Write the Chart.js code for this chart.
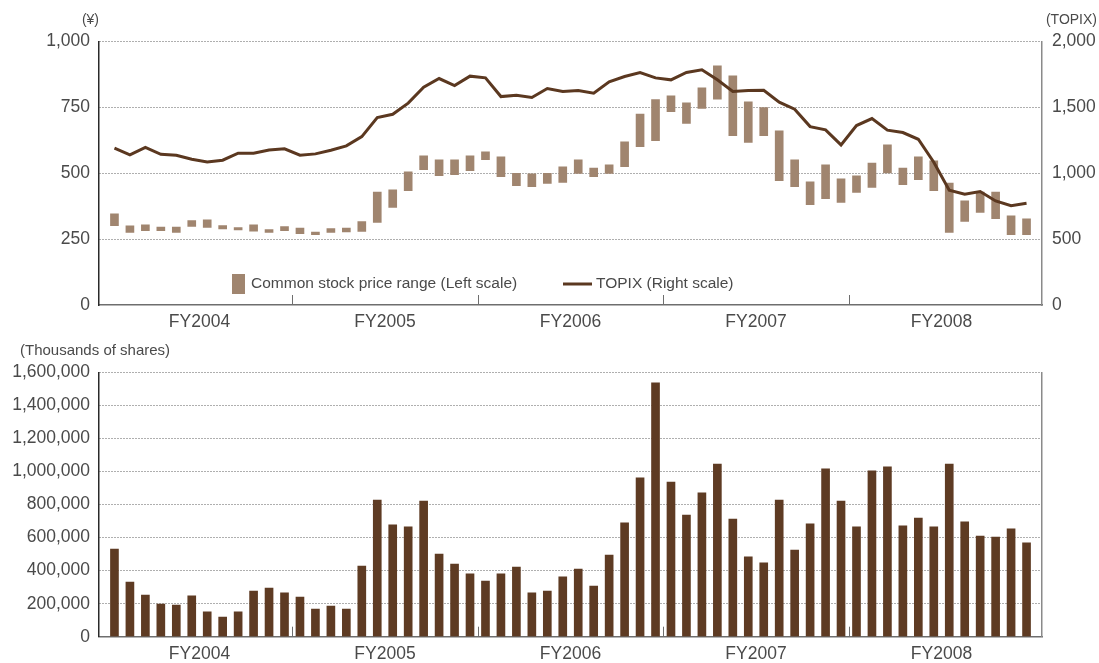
<!DOCTYPE html>
<html>
<head>
<meta charset="utf-8">
<title>Stock price range, TOPIX and trading volume</title>
<script src="https://cdn.jsdelivr.net/npm/chart.js@4.4.1/dist/chart.umd.min.js"></script>
<style>
  html, body { margin: 0; padding: 0; background: #fff; }
  #wrap { position: relative; width: 1099px; height: 663px; overflow: hidden; }
  canvas { position: absolute; left: 0; }
  #priceChart { top: 0; }
  #volumeChart { top: 330px; }
</style>
</head>
<body>
<div id="wrap">
  <canvas id="priceChart" width="1099" height="330"></canvas>
  <canvas id="volumeChart" width="1099" height="333"></canvas>
</div>
<script>
// Fiscal years on the horizontal axis (April - March, 12 months each)
const fyLabels = ['FY2004', 'FY2005', 'FY2006', 'FY2007', 'FY2008'];

// Monthly common stock price range (yen), April 2004 - March 2009
const priceHigh = [346, 300, 304, 296, 296, 320, 323, 301, 294, 304, 286, 298,
                   292, 277, 290, 292, 317, 429, 437, 505, 566, 551, 551, 566,
                   581, 562, 500, 498, 500, 524, 551, 520, 532, 619, 725, 780,
                   794, 767, 824, 908, 870, 771, 749, 661, 551, 467, 532, 479,
                   490, 539, 608, 520, 562, 547, 463, 395, 429, 429, 338, 327];
const priceLow  = [301, 275, 282, 282, 275, 298, 294, 289, 285, 280, 275, 282,
                   271, 267, 275, 277, 279, 313, 370, 434, 514, 491, 495, 510,
                   552, 487, 453, 449, 461, 465, 499, 487, 499, 525, 601, 624,
                   734, 689, 746, 781, 643, 617, 643, 472, 449, 381, 404, 389,
                   427, 446, 501, 457, 476, 434, 275, 317, 351, 328, 267, 267];

// Monthly TOPIX (right scale)
const topix = [1190, 1139, 1197, 1144, 1137, 1106, 1086, 1099, 1152, 1152, 1177, 1185,
               1137, 1147, 1175, 1208, 1278, 1423, 1448, 1532, 1653, 1719, 1666, 1737,
               1724, 1582, 1592, 1575, 1643, 1620, 1628, 1608, 1694, 1734, 1765, 1724,
               1709, 1765, 1785, 1709, 1620, 1628, 1630, 1539, 1486, 1354, 1329, 1215,
               1362, 1415, 1327, 1309, 1258, 1084, 871, 841, 861, 790, 754, 772];

// Monthly trading volume (thousands of shares)
const volume = [531000, 331000, 252000, 198000, 192000, 247000, 150000, 119000, 150000, 277000, 295000, 265000,
                240000, 168000, 186000, 168000, 428000, 828000, 677000, 665000, 822000, 501000, 440000, 380000,
                337000, 380000, 422000, 265000, 277000, 362000, 410000, 307000, 495000, 689000, 962000, 1537000,
                937000, 737000, 871000, 1046000, 713000, 483000, 447000, 828000, 525000, 683000, 1016000, 822000,
                665000, 1004000, 1028000, 671000, 719000, 665000, 1046000, 695000, 610000, 604000, 653000, 568000];

const MONTHS_PER_FY = 12;
const monthCount = fyLabels.length * MONTHS_PER_FY;

const COLORS = {
  range: '#a0856f',
  topix: '#5b3820',
  volume: '#5e3b23',
  text: '#4a4a4a',
  grid: '#5e5e5e',
  leftAxis: '#2a2a2a',
  axis: '#8a8a8a'
};
const FONT_FAMILY = '"Liberation Sans", Arial, Helvetica, sans-serif';
const tickFont = { family: FONT_FAMILY, size: 17.5 };

Chart.defaults.font.family = FONT_FAMILY;
Chart.defaults.color = COLORS.text;

// Month n (1-based) sits at x = n on a 0..monthCount+1 linear axis
const atMonth = (values) => values.map((v, i) => ({ x: i + 1, y: v }));

function monthAxis(axisHeight) {
  return {
    type: 'linear',
    min: 0,
    max: monthCount + 1,
    offset: false,
    afterBuildTicks: (scale) => {
      scale.ticks = fyLabels.map((_, i) => ({ value: i * MONTHS_PER_FY + (MONTHS_PER_FY + 1) / 2 }));
    },
    afterFit: (scale) => { scale.height = axisHeight; },
    ticks: {
      autoSkip: false,
      maxRotation: 0,
      padding: 7,
      font: tickFont,
      color: COLORS.text,
      callback: (value, index) => fyLabels[index]
    },
    grid: { display: true, offset: false, drawOnChartArea: false, drawTicks: false, color: 'rgba(0,0,0,0)' },
    border: { display: true, color: '#6e6e6e', width: 1.5 }
  };
}

const dottedGrid = {
  drawTicks: false,
  lineWidth: 1,
  color: (ctx) => (ctx.tick && ctx.tick.value === 0 ? 'rgba(0,0,0,0)' : COLORS.grid)
};

// Short marks rising from the axis at each fiscal-year boundary, plus unit captions
function decorations(captions, legend) {
  return {
    id: 'decorations',
    afterDatasetsDraw(chart) {
      const { ctx, chartArea } = chart;
      const xs = chart.scales.x;
      ctx.save();
      ctx.strokeStyle = '#6e6e6e';
      ctx.lineWidth = 1;
      for (let i = 1; i < fyLabels.length; i++) {
        const px = Math.round(xs.getPixelForValue(i * MONTHS_PER_FY + 0.5)) + 0.5;
        ctx.beginPath();
        ctx.moveTo(px, chartArea.bottom);
        ctx.lineTo(px, chartArea.bottom - 10);
        ctx.stroke();
      }
      ctx.fillStyle = COLORS.text;
      ctx.textBaseline = 'middle';
      captions.forEach((c) => {
        ctx.font = c.size + 'px ' + FONT_FAMILY;
        ctx.textAlign = c.align;
        ctx.fillText(c.text, c.x, c.y);
      });
      if (legend) legend(ctx, chart);
      ctx.restore();
    }
  };
}

function drawPriceLegend(ctx, chart) {
  const [rangeSet, lineSet] = [chart.data.datasets[0], chart.data.datasets[1]];
  const y = 284;
  ctx.font = '15.5px ' + FONT_FAMILY;
  ctx.textAlign = 'left';
  ctx.fillStyle = rangeSet.backgroundColor;
  ctx.fillRect(232, y - 10, 13, 20);
  ctx.fillStyle = COLORS.text;
  ctx.fillText(rangeSet.label, 251, y);
  ctx.strokeStyle = lineSet.borderColor;
  ctx.lineWidth = 3;
  ctx.beginPath();
  ctx.moveTo(563, y);
  ctx.lineTo(592, y);
  ctx.stroke();
  ctx.fillText(lineSet.label, 596, y);
}

// Upper panel: monthly price range (floating bars) and TOPIX (line)
new Chart(document.getElementById('priceChart'), {
  type: 'bar',
  data: {
    datasets: [
      {
        label: 'Common stock price range (Left scale)',
        data: priceLow.map((lo, i) => ({ x: i + 1, y: [lo, priceHigh[i]] })),
        backgroundColor: COLORS.range,
        borderWidth: 0,
        barThickness: 8,
        yAxisID: 'y',
        order: 2
      },
      {
        type: 'line',
        label: 'TOPIX (Right scale)',
        data: atMonth(topix),
        borderColor: COLORS.topix,
        borderWidth: 3,
        pointRadius: 0,
        tension: 0,
        yAxisID: 'y2',
        order: 1
      }
    ]
  },
  options: {
    responsive: false,
    animation: false,
    devicePixelRatio: 1,
    layout: { padding: { top: 41.5, left: 0, right: 0, bottom: 0 } },
    plugins: { legend: { display: false }, tooltip: { enabled: false } },
    scales: {
      x: monthAxis(25),
      y: {
        position: 'left',
        min: 0,
        max: 1000,
        afterFit: (scale) => { scale.width = 99; },
        ticks: { stepSize: 250, padding: 9, font: tickFont, color: COLORS.text,
                 callback: (v) => v.toLocaleString('en-US') },
        grid: dottedGrid,
        border: { color: COLORS.leftAxis, width: 1.5, dash: [1, 2] }
      },
      y2: {
        position: 'right',
        min: 0,
        max: 2000,
        afterFit: (scale) => { scale.width = 57; },
        ticks: { stepSize: 500, padding: 10, font: tickFont, color: COLORS.text,
                 callback: (v) => v.toLocaleString('en-US') },
        grid: { drawOnChartArea: false, drawTicks: false },
        border: { color: COLORS.axis, width: 1.5 }
      }
    }
  },
  plugins: [decorations([
    { text: '(¥)', x: 99, y: 20, size: 14, align: 'right' },
    { text: '(TOPIX)', x: 1097, y: 20.5, size: 14, align: 'right' }
  ], drawPriceLegend)]
});

// Lower panel: monthly trading volume
new Chart(document.getElementById('volumeChart'), {
  type: 'bar',
  data: {
    datasets: [{
      label: 'Trading volume',
      data: atMonth(volume),
      backgroundColor: COLORS.volume,
      borderWidth: 0,
      barThickness: 8,
      yAxisID: 'y'
    }]
  },
  options: {
    responsive: false,
    animation: false,
    devicePixelRatio: 1,
    layout: { padding: { top: 42.5, left: 0, right: 0, bottom: 0 } },
    plugins: { legend: { display: false }, tooltip: { enabled: false } },
    scales: {
      x: monthAxis(26.3),
      y: {
        position: 'left',
        min: 0,
        max: 1600000,
        afterFit: (scale) => { scale.width = 99; },
        ticks: { stepSize: 200000, padding: 9, font: tickFont, color: COLORS.text,
                 callback: (v) => v.toLocaleString('en-US') },
        grid: dottedGrid,
        border: { color: COLORS.leftAxis, width: 1.5, dash: [1, 2] }
      },
      yr: {
        position: 'right',
        min: 0,
        max: 1,
        afterFit: (scale) => { scale.width = 57; },
        ticks: { display: false },
        grid: { drawOnChartArea: false, drawTicks: false },
        border: { color: COLORS.axis, width: 1.5 }
      }
    }
  },
  plugins: [decorations([
    { text: '(Thousands of shares)', x: 20, y: 20.7, size: 15, align: 'left' }
  ])]
});
</script>
</body>
</html>
